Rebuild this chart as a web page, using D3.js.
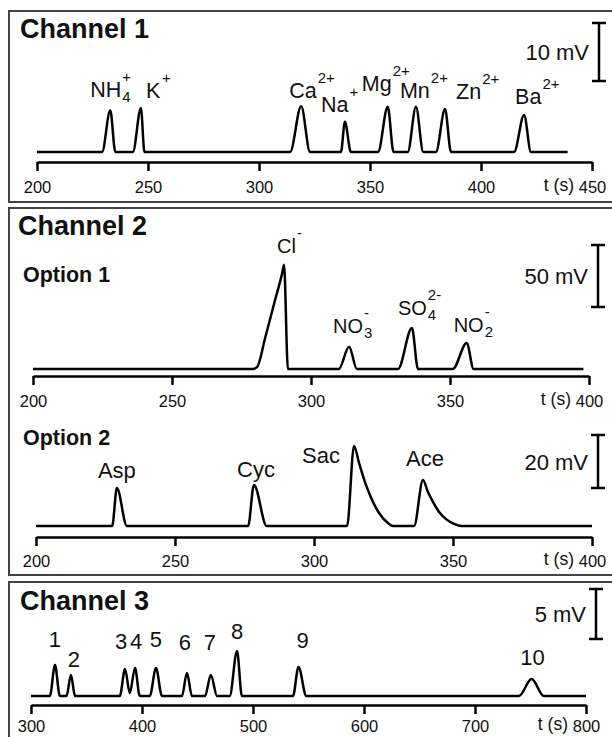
<!DOCTYPE html>
<html>
<head>
<meta charset="utf-8">
<title>Channel traces</title>
<script src="https://cdn.jsdelivr.net/npm/d3@7"></script>
<style>
  body { margin: 0; background: #fff; }
  text { font-family: "Liberation Sans", Arial, Helvetica, sans-serif; fill: #111; }
</style>
</head>
<body>
<div id="chart"></div>
<script>
// ---- data: traces as [t (s), signal (mV)] ----
var ch1Trace = [
  [200, 0], [229.3, 0], [233, 7.2], [235.3, 0],
  [243.2, 0], [246.8, 7.6], [248.4, 0],
  [314, 0], [319, 7.9], [323, 0],
  [336.9, 0], [338.7, 5.2], [341.4, 0],
  [353.6, 0], [358, 7.8], [360.6, 0],
  [367, 0], [370.7, 7.8], [374, 0],
  [379.7, 0], [383.8, 7.4], [386.5, 0],
  [414.9, 0], [419.4, 6.4], [422.5, 0],
  [439, 0]
];
var ch1Names = ["NH", "K", "Ca", "Na", "Mg", "Mn", "Zn", "Ba"];
var ch1Subs = ["4", "", "", "", "", "", "", ""];
var ch1Sups = ["+", "+", "2+", "+", "2+", "2+", "2+", "2+"];
var ch1PeakT = [233, 246.8, 319, 338.7, 358, 370.7, 383.8, 419.4];
var ch1Ticks = [200, 250, 300, 350, 400, 450];

var opt1Trace = [
  [200, 0], [279, 0], [280.6, 1.5], [283.5, 25], [287, 55], [289.5, 76], [290.3, 84], [291.7, 0],
  [310, 0], [313.7, 18], [316.5, 0],
  [331.3, 0], [336.3, 33], [338.5, 0],
  [351, 0], [356, 21], [358.5, 0],
  [398, 0]
];
var opt1Names = ["Cl", "NO", "SO", "NO"];
var opt1Subs = ["", "3", "4", "2"];
var opt1Sups = ["-", "-", "2-", "-"];
var opt1PeakT = [290.3, 313.7, 336.3, 356];
var ch2Ticks = [200, 250, 300, 350, 400];

var opt2Trace = [
  [200, 0], [227.4, 0], [229.1, 14.3], [232.7, 0],
  [276.3, 0], [278.4, 15.5], [283, 0],
  [311.9, 0], [314.4, 30.2], [316.2, 23.8], [318.7, 15.5], [321.2, 9.1], [323.4, 4.9], [326.6, 1.1], [328.4, 0],
  [336, 0], [339.2, 17.4], [341, 12.8], [342.8, 9.1], [345, 5.3], [347.5, 2.6], [350.4, 0.8], [352.9, 0],
  [400, 0]
];
var opt2Names = ["Asp", "Cyc", "Sac", "Ace"];
var opt2PeakT = [229.1, 278.4, 314.4, 339.2];

var ch3Trace = [
  [300, 0], [317, 0], [321.6, 3.1], [326, 0],
  [332, 0], [336, 2.1], [339.6, 0],
  [380, 0], [384.7, 2.7], [389, 0.3], [393.7, 2.8], [398, 0],
  [407, 0], [412.6, 2.8], [418, 0],
  [436, 0], [440.5, 2.3], [445, 0],
  [456.8, 0], [462, 2.1], [467.6, 0],
  [479, 0], [485.6, 4.5], [490, 0],
  [536, 0], [541, 2.9], [548, 0],
  [739.6, 0], [751, 1.7], [762, 0],
  [800, 0]
];
var ch3Names = ["1", "2", "3", "4", "5", "6", "7", "8", "9", "10"];
var ch3PeakT = [321.6, 336, 384.7, 393.7, 412.6, 440.5, 462, 485.6, 541, 751];
var ch3Ticks = [300, 400, 500, 600, 700, 800];

// ---- layout ----
var svg = d3.select("#chart").append("svg")
  .attr("width", 612).attr("height", 737);

var frames = [[11, 202], [208, 575], [582, 760]];
svg.selectAll("rect.frame")
  .data(frames)
  .enter().append("rect")
  .attr("class", "frame")
  .attr("x", 9).attr("y", d => d[0])
  .attr("width", 640).attr("height", d => d[1] - d[0])
  .attr("fill", "none").attr("stroke", "#444").attr("stroke-width", 2);

function title(txt, x, y, size) {
  svg.append("text").attr("x", x).attr("y", y)
    .attr("font-size", size).attr("font-weight", "bold").text(txt);
}
title("Channel 1", 20, 38, 27);
title("Channel 2", 18, 235, 27);
title("Option 1", 23, 282, 21.5);
title("Option 2", 23, 445, 21.5);
title("Channel 3", 20, 610, 27);

function drawPanel(p) {
  var x = d3.scaleLinear().domain([p.ticks[0], p.ticks[p.ticks.length - 1]]).range(p.xRange);
  var y = d3.scaleLinear().domain([0, p.bar]).range([p.baseY, p.baseY - p.barPx]);
  var g = svg.append("g");

  // axis
  var axis = d3.axisBottom(x).tickValues(p.ticks).tickSize(9).tickSizeOuter(0).tickPadding(p.pad);
  var ag = g.append("g").attr("transform", "translate(0," + p.axisY + ")").call(axis);
  ag.attr("font-family", null).attr("font-size", null);
  ag.select(".domain").attr("stroke", "#000").attr("stroke-width", 2.5);
  ag.selectAll(".tick line").attr("stroke", "#000").attr("stroke-width", 2.5);
  ag.selectAll(".tick text").attr("font-size", 16.5).attr("fill", "#111");
  g.append("text")
    .attr("x", x.range()[1] - 18).attr("y", p.axisY + p.pad + 18.5)
    .attr("text-anchor", "end").attr("font-size", 17.5)
    .text("t (s)");

  // trace
  var line = d3.line()
    .x(d => x(d[0]))
    .y(d => y(d[1]))
    .curve(d3.curveMonotoneX);
  g.append("path")
    .datum(p.trace)
    .attr("fill", "none")
    .attr("stroke", "#000")
    .attr("stroke-width", 2.5)
    .attr("stroke-linejoin", "round")
    .attr("d", line);

  // scale bar
  var len = y(0) - y(p.bar);
  var bx = p.barX, by = p.barTop;
  var sb = g.append("g").attr("stroke", "#000").attr("stroke-width", 2.5);
  sb.append("line").attr("x1", bx).attr("x2", bx).attr("y1", by).attr("y2", by + len);
  sb.append("line").attr("x1", bx - 7).attr("x2", bx + 7).attr("y1", by).attr("y2", by);
  sb.append("line").attr("x1", bx - 7).attr("x2", bx + 7).attr("y1", by + len).attr("y2", by + len);
  g.append("text")
    .attr("x", bx - 10).attr("y", by + len / 2 + 8)
    .attr("text-anchor", "end").attr("font-size", 22)
    .text(p.bar + " mV");

  // peak labels
  p.names.forEach(function(name, i) {
    var t = g.append("text")
      .attr("x", x(p.peakT[i]) + p.labelDx[i])
      .attr("y", p.labelY[i])
      .attr("text-anchor", p.anchor)
      .attr("font-size", p.labelSize)
      .text(name);
    if (!p.subs && !p.sups) return;
    var bb = t.node().getBBox();
    var sx = bb.x + bb.width + 1;
    if (p.subs && p.subs[i]) {
      g.append("text").attr("x", sx).attr("y", p.labelY[i] + 5)
        .attr("font-size", 15).text(p.subs[i]);
    }
    if (p.sups && p.sups[i]) {
      g.append("text").attr("x", sx).attr("y", p.labelY[i] - 15)
        .attr("font-size", 15).text(p.sups[i]);
    }
  });
}

drawPanel({
  trace: ch1Trace, ticks: ch1Ticks, xRange: [37, 592],
  axisY: 162, baseY: 152, bar: 10, barPx: 58, barX: 599, barTop: 23, pad: 10,
  names: ch1Names, subs: ch1Subs, sups: ch1Sups, peakT: ch1PeakT,
  labelDx: [-20, 5, -12, -24, -26, -16, 11, -9],
  labelY: [97, 98, 98, 112, 91, 98, 99, 104],
  anchor: "start", labelSize: 21.5
});

drawPanel({
  trace: opt1Trace, ticks: ch2Ticks, xRange: [33, 589],
  axisY: 376, baseY: 369, bar: 50, barPx: 62, barX: 598, barTop: 245, pad: 10,
  names: opt1Names, subs: opt1Subs, sups: opt1Sups, peakT: opt1PeakT,
  labelDx: [-7, -16, -14, -13],
  labelY: [253, 333, 315, 332],
  anchor: "start", labelSize: 20
});

drawPanel({
  trace: opt2Trace, ticks: ch2Ticks, xRange: [36, 592],
  axisY: 537, baseY: 526, bar: 20, barPx: 53, barX: 598, barTop: 435, pad: 9,
  names: opt2Names, peakT: opt2PeakT,
  labelDx: [0, 2, -33, 2],
  labelY: [478, 477, 463, 466],
  anchor: "middle", labelSize: 22
});

drawPanel({
  trace: ch3Trace, ticks: ch3Ticks, xRange: [31, 586],
  axisY: 705, baseY: 696, bar: 5, barPx: 50, barX: 596, barTop: 589, pad: 6,
  names: ch3Names, peakT: ch3PeakT,
  labelDx: [0, 3, -4, 1, 0, -2, -1, 0, 4, 1],
  labelY: [647, 667, 649, 649, 647, 650, 650, 639, 648, 665],
  anchor: "middle", labelSize: 22
});
</script>
</body>
</html>
